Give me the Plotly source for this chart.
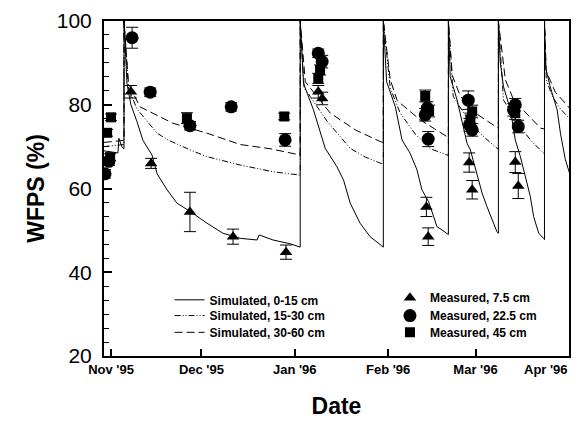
import pandas as pd
import plotly.graph_objects as go

# ---------------- data (days counted from 1 Nov 1995) ----------------
START = pd.Timestamp("1995-11-01")

sim_0_15_day = [-2.4, 2.3, 2.6, 3.6, 4.3, 4.32, 5.3, 6.6, 8.6, 10.6, 13.6, 15.3, 18.6, 21.9, 26.3,
                31.9, 37.2, 42.9, 48.5, 49.2, 53.8, 59.5, 62.8, 62.81,
                63.9, 67.2, 71.1, 75.0, 77.2, 79.4, 82.7, 86.0, 89.9, 90.4, 90.41,
                91.5, 94.4, 96.6, 99.3, 101.6, 103.2, 105.4, 107.1, 108.2, 109.9, 111.5, 112.0, 112.01,
                112.6, 114.9, 116.5, 118.2, 119.3, 121.5, 123.2, 124.8, 126.5, 128.1, 128.6, 128.61,
                129.2, 130.3, 132.6, 133.7, 134.2, 135.9, 137.5, 139.2, 140.3, 142.0, 143.6, 143.9, 143.91,
                144.2, 145.8, 148.1, 149.2, 150.8, 152.5]
sim_0_15_wfps = [69, 68.5, 72, 70, 69.5, 100, 85, 80, 76, 71.5, 68, 63.5, 59.7, 56.5, 54.5,
                 51.7, 49.3, 48.1, 47.7, 48.9, 47.7, 46.8, 46.0, 100,
                 85.1, 78.8, 69.6, 65.2, 62.0, 56.5, 51.7, 48.5, 46.3, 46.0, 100,
                 85.5, 79.5, 71.6, 68.4, 64.4, 59.7, 56.9, 53.3, 50.9, 50.1, 49.3, 49.0, 100,
                 86.7, 81.1, 76.4, 70.8, 69.2, 63.6, 58.9, 55.7, 52.5, 49.7, 49.3, 100,
                 90.3, 84.3, 78.8, 73.2, 71.6, 67.6, 62.8, 58.1, 53.3, 49.3, 48.1, 47.8, 100,
                 89.1, 84.3, 78.8, 73.2, 67.0, 63.0]

sim_15_30_day = [-2.4, 4.3, 4.32, 5.8, 8.6, 15.3, 18.9, 26.3, 31.9, 42.9, 53.8, 62.8, 62.81,
                 64.1, 66.1, 71.8, 79.4, 84.4, 90.0, 90.4, 90.41,
                 92.7, 96.0, 101.0, 106.0, 111.6, 112.0, 112.01,
                 113.6, 119.3, 124.3, 128.3, 128.6, 128.61,
                 130.3, 135.9, 139.2, 143.5, 143.9, 143.91,
                 144.5, 146.5, 149.2, 152.5]
sim_15_30_wfps = [70, 70.5, 100, 84, 79, 73.2, 71.6, 69.2, 67.6, 65.6, 64.0, 63.2, 100,
                  84, 82, 76, 69.6, 67.5, 65.9, 65.8, 100,
                  84, 78, 73, 69.5, 68, 67.9, 100,
                  82, 75.5, 72, 69.5, 69.4, 100,
                  81.1, 74.8, 71.6, 68.5, 68.4, 100,
                  86, 82, 79, 76.5]

sim_30_60_day = [-2.4, 4.3, 4.32, 5.8, 9.6, 20.5, 31.9, 42.9, 52.8, 62.8, 62.81,
                 64.5, 72.8, 81.1, 89.4, 90.4, 90.41,
                 92.7, 95.0, 102.6, 111.5, 112.0, 112.01,
                 113.3, 116.0, 121.0, 128.3, 128.6, 128.61,
                 130.9, 133.7, 142.6, 143.9, 143.91,
                 144.5, 147.5, 152.5]
sim_30_60_wfps = [71, 71.5, 100, 85, 79.5, 75.6, 73.2, 70.5, 69.5, 68, 100,
                  85.5, 78, 74, 71.2, 71, 100,
                  86, 81, 76.4, 72.4, 72.3, 100,
                  87, 82, 78, 74.5, 74.4, 100,
                  86, 81.1, 74.4, 74.2, 100,
                  88, 83, 79]

meas_7_5_day = [6.6, 13.3, 26.2, 40.5, 58.1, 68.8, 70.1, 104.7, 105.3, 118.9, 119.9, 134.2, 135.2]
meas_7_5_wfps = [83.1, 66.0, 54.4, 48.5, 44.8, 83.1, 81.5, 55.6, 48.5, 66.2, 59.7, 66.3, 60.6]
meas_7_5_err = [1.5, 1.2, 4.7, 1.8, 1.7, 1.5, 1.5, 2.3, 2.1, 2.3, 2.2, 2.5, 3.0]

meas_22_5_day = [-2.0, -0.7, 7.0, 13.0, 26.2, 39.9, 57.8, 68.8, 70.1, 104.3, 105.0, 105.3,
                 118.6, 119.0, 119.9, 133.6, 134.2, 135.2]
meas_22_5_wfps = [63.5, 66.5, 96.0, 83.0, 75.0, 79.5, 71.6, 92.3, 90.3, 77.6, 79.2, 71.8,
                  81.1, 75.2, 74.0, 78.8, 80.0, 74.8]
meas_22_5_err = [1.0, 1.0, 2.5, 1.0, 1.0, 1.0, 1.5, 1.0, 1.5, 1.5, 1.5, 1.8,
                 2.2, 1.5, 1.5, 1.5, 1.5, 1.5]

meas_45_day = [-1.3, -0.3, 0.0, 25.2, 57.5, 68.8, 69.4, 104.3, 105.6, 119.3, 119.9, 134.2]
meas_45_wfps = [73.3, 67.5, 77.0, 76.8, 77.2, 86.3, 88.3, 82.1, 78.5, 76.5, 78.4, 78.0]
meas_45_err = [0.8, 0.8, 0.8, 1.3, 0.8, 1.2, 1.2, 1.4, 1.4, 1.5, 1.5, 1.5]

tick_dates = ["1995-11-01", "1995-12-01", "1996-01-01", "1996-02-01", "1996-03-01", "1996-04-01"]
tick_text = ["Nov '95", "Dec '95", "Jan '96", "Feb '96", "Mar '96", ""]
last_tick_label = "Apr '96"


def to_dates(days):
    return [START + pd.Timedelta(days=d) for d in days]


FONT = "Liberation Sans, Arial, Helvetica, sans-serif"

fig = go.Figure()

sims = [
    ("Simulated, 0-15 cm", sim_0_15_day, sim_0_15_wfps, "solid", "legend"),
    ("Simulated, 15-30 cm", sim_15_30_day, sim_15_30_wfps, "6px,2px,1px,2px,1px,2px", "legend2"),
    ("Simulated, 30-60 cm", sim_30_60_day, sim_30_60_wfps, "8px,4px", "legend3"),
]
for name, d, v, dash, lg in sims:
    fig.add_trace(go.Scatter(
        x=to_dates(d), y=v, mode="lines", name=name,
        line=dict(color="black", width=1, dash=dash),
        legend=lg,
    ))

meas = [
    ("Measured, 7.5 cm", meas_7_5_day, meas_7_5_wfps, meas_7_5_err, "triangle-up", 11, "legend4"),
    ("Measured, 22.5 cm", meas_22_5_day, meas_22_5_wfps, meas_22_5_err, "circle", 13, "legend5"),
    ("Measured, 45 cm", meas_45_day, meas_45_wfps, meas_45_err, "square", 10, "legend6"),
]
for name, d, v, e, sym, size, lg in meas:
    fig.add_trace(go.Scatter(
        x=to_dates(d), y=v, mode="markers", name=name,
        marker=dict(symbol=sym, size=size, color="black", line=dict(width=0)),
        error_y=dict(type="data", array=e, color="black", thickness=1, width=6),
        legend=lg,
    ))

legend_common = dict(
    font=dict(family=FONT, size=12, color="black", weight="bold"),
    bgcolor="rgba(0,0,0,0)", borderwidth=0,
    xanchor="left", yanchor="top", tracegroupgap=0,
)

fig.add_annotation(
    x=tick_dates[-1], xref="x", xanchor="right", xshift=1,
    y=-0.039, yref="paper", yanchor="middle",
    text=last_tick_label, showarrow=False,
    font=dict(family=FONT, size=13, color="black", weight="bold"),
)

fig.update_layout(
    width=582, height=421,
    margin=dict(l=104, r=13, t=21, b=65, autoexpand=False),
    paper_bgcolor="white", plot_bgcolor="white",
    showlegend=True,
    legend=dict(x=0.141, y=0.211, **legend_common),
    legend2=dict(x=0.141, y=0.164, **legend_common),
    legend3=dict(x=0.141, y=0.114, **legend_common),
    legend4=dict(x=0.615, y=0.217, **legend_common),
    legend5=dict(x=0.615, y=0.164, **legend_common),
    legend6=dict(x=0.615, y=0.114, **legend_common),
    xaxis=dict(
        type="date",
        range=["1995-10-29 16:00", "1996-04-01 01:00"],
        tickmode="array", tickvals=tick_dates, ticktext=tick_text,
        automargin=False,
        ticks="inside", ticklen=7, tickwidth=2, tickcolor="black",
        showline=True, linecolor="black", linewidth=2, mirror=True,
        showgrid=False, zeroline=False,
        tickfont=dict(family=FONT, size=13, color="black", weight="bold"),
        title=dict(text="Date", font=dict(family=FONT, size=23, color="black", weight="bold"), standoff=22),
    ),
    yaxis=dict(
        range=[20, 100], automargin=False,
        tickmode="array", tickvals=[20, 40, 60, 80, 100],
        ticks="inside", ticklen=8, tickwidth=2, tickcolor="black",
        minor=dict(dtick=20 / 6, ticks="inside", ticklen=5, tickwidth=1, tickcolor="black", showgrid=False),
        showline=True, linecolor="black", linewidth=2, mirror=True,
        showgrid=False, zeroline=False,
        tickfont=dict(family=FONT, size=21, color="black"),
        ticklabelstandoff=6,
        title=dict(text="WFPS (%)", font=dict(family=FONT, size=23, color="black", weight="bold"), standoff=6),
    ),
)

fig.write_html("out.html")
